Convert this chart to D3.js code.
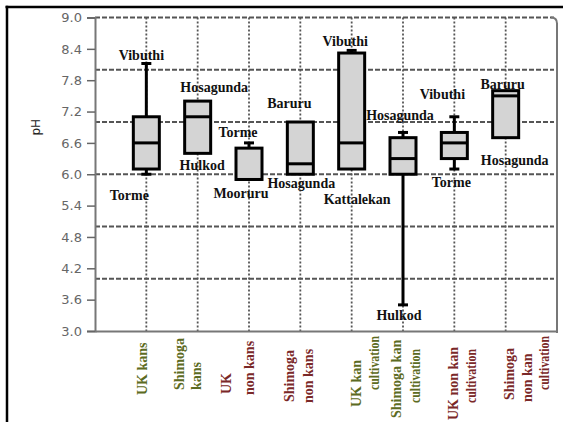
<!DOCTYPE html>
<html>
  <head>
    <meta charset="UTF-8" />
    <script src="https://d3js.org/d3.v7.min.js"></script>
    <style>
      body { margin: 0; background: #fff; }
    </style>
  </head>
  <body>
    <div id="chart"></div>
    <script>
      // data
      var categories = [
        ["UK kans"],
        ["Shimoga", "kans"],
        ["UK", "non kans"],
        ["Shimoga", "non kans"],
        ["UK kan", "cultivation"],
        ["Shimoga kan", "cultivation"],
        ["UK non kan", "cultivation"],
        ["Shimoga", "non kan", "cultivation"]
      ];
      var isKan = [true, true, false, false, true, true, false, false];
      var whiskerLow = [6.0, 6.4, 5.9, 6.0, 6.1, 3.5, 6.1, 6.7];
      var q1 = [6.1, 6.4, 5.9, 6.0, 6.1, 6.0, 6.3, 6.7];
      var median = [6.6, 7.1, 5.9, 6.2, 6.6, 6.3, 6.6, 7.5];
      var q3 = [7.1, 7.4, 6.5, 7.0, 8.32, 6.7, 6.8, 7.6];
      var whiskerHigh = [8.12, 7.4, 6.6, 7.0, 8.37, 6.8, 7.1, 7.6];
      var maxPlace = ["Vibuthi", "Hosagunda", "Torme", "Baruru", "Vibuthi", "Hosagunda", "Vibuthi", "Baruru"];
      var minPlace = ["Torme", "Hulkod", "Mooruru", "Hosagunda", "Kattalekan", "Hulkod", "Torme", "Hosagunda"];
      var yTicks = [3.0, 3.6, 4.2, 4.8, 5.4, 6.0, 6.6, 7.2, 7.8, 8.4, 9.0];
      var yGrid = [4, 5, 6, 7, 8, 9];

      // label placement (pixel nudges)
      var topOff = [[-5, -8], [16.5, -14], [-11, -11], [-11, -19], [-6.5, -9], [-3, -17], [-12, -23], [-3, -7]];
      var botOff = [[-17, 21], [4.5, 12], [-8, 14], [1, 9], [5.5, 30], [-4, 10], [-3, 13], [9, 22]];
      var catLines = [
        [[-4, 395]],
        [[-18.5, 390], [-1.5, 390]],
        [[-23, 394], [0, 395]],
        [[-11, 402], [8, 403]],
        [[4, 407], [22.5, 390]],
        [[-7, 418], [12, 403]],
        [[-1, 420], [17, 403]],
        [[3, 400], [21.5, 402], [38, 390]]
      ];

      var W = 563, H = 422;
      var pLeft = 95, pRight = 557, pTop = 17.5, pBottom = 331;

      var svg = d3.select("#chart").append("svg")
        .attr("width", W).attr("height", H);

      var x = d3.scaleLinear().domain([0, 9]).range([pLeft, pRight]);
      var y = d3.scaleLinear().domain([3, 9]).range([pBottom, pTop]);

      // outer frame (top and left only)
      svg.append("line").attr("x1", 5.5).attr("x2", W).attr("y1", 7).attr("y2", 7)
        .attr("stroke", "#000").attr("stroke-width", 2.5);
      svg.append("line").attr("x1", 7).attr("x2", 7).attr("y1", 5.8).attr("y2", H)
        .attr("stroke", "#000").attr("stroke-width", 2.5);

      // grid
      svg.append("g").selectAll("line").data(yGrid).join("line")
        .attr("x1", pLeft).attr("x2", pRight - 3)
        .attr("y1", d => y(d)).attr("y2", d => y(d))
        .attr("stroke", "#555").attr("stroke-width", 1.8)
        .attr("stroke-dasharray", "5,2");
      svg.append("g").selectAll("line").data(d3.range(1, 9)).join("line")
        .attr("x1", d => x(d)).attr("x2", d => x(d))
        .attr("y1", pTop).attr("y2", pBottom)
        .attr("stroke", "#555").attr("stroke-width", 1.8)
        .attr("stroke-dasharray", "2,2");

      // right border with rounded top corner
      svg.append("path")
        .attr("d", "M" + (pRight - 6) + "," + pTop + " Q" + pRight + "," + pTop + " " + pRight + "," + (pTop + 6) + " L" + pRight + "," + (pBottom + 2))
        .attr("fill", "none").attr("stroke", "#777").attr("stroke-width", 2);

      // axes
      var yAxis = d3.axisLeft(y).tickValues(yTicks).tickSize(8).tickPadding(5)
        .tickFormat(d3.format(".1f"));
      var yg = svg.append("g").attr("transform", "translate(" + pLeft + ",0)").call(yAxis);
      yg.select(".domain").attr("stroke", "#777").attr("stroke-width", 2);
      yg.selectAll(".tick line").attr("stroke", "#666").attr("stroke-width", 1.5);
      yg.selectAll(".tick text").attr("fill", "#666")
        .style("font-family", "DejaVu Sans, Verdana, sans-serif").style("font-size", "13px");

      var xAxis = d3.axisBottom(x).tickValues([]).tickSizeOuter(0);
      var xg = svg.append("g").attr("transform", "translate(0," + pBottom + ")").call(xAxis);
      xg.select(".domain").attr("stroke", "#777").attr("stroke-width", 2);

      svg.append("text")
        .attr("transform", "translate(36," + y(6.9) + ") rotate(-90)")
        .attr("text-anchor", "middle").attr("dy", "0.35em")
        .style("font-family", "DejaVu Sans, sans-serif").style("font-size", "12px")
        .attr("fill", "#222").text("pH");

      // boxes
      var bw = 26, cw = 10;
      var idx = d3.range(categories.length);
      var g = svg.append("g");
      g.selectAll("line.whisker").data(idx).join("line").attr("class", "whisker")
        .attr("x1", i => x(i + 1)).attr("x2", i => x(i + 1))
        .attr("y1", i => y(whiskerLow[i])).attr("y2", i => y(whiskerHigh[i]))
        .attr("stroke", "#000").attr("stroke-width", 3);
      g.selectAll("line.capHi").data(idx.filter(i => whiskerHigh[i] > q3[i])).join("line").attr("class", "capHi")
        .attr("x1", i => x(i + 1) - cw / 2).attr("x2", i => x(i + 1) + cw / 2)
        .attr("y1", i => y(whiskerHigh[i])).attr("y2", i => y(whiskerHigh[i]))
        .attr("stroke", "#000").attr("stroke-width", 3);
      g.selectAll("line.capLo").data(idx.filter(i => whiskerLow[i] < q1[i])).join("line").attr("class", "capLo")
        .attr("x1", i => x(i + 1) - cw / 2).attr("x2", i => x(i + 1) + cw / 2)
        .attr("y1", i => y(whiskerLow[i])).attr("y2", i => y(whiskerLow[i]))
        .attr("stroke", "#000").attr("stroke-width", 3);
      g.selectAll("rect").data(idx).join("rect")
        .attr("x", i => x(i + 1) - bw / 2).attr("width", bw)
        .attr("y", i => y(q3[i])).attr("height", i => y(q1[i]) - y(q3[i]))
        .attr("fill", "#d4d4d4").attr("stroke", "#000").attr("stroke-width", 3);
      g.selectAll("line.med").data(idx).join("line").attr("class", "med")
        .attr("x1", i => x(i + 1) - bw / 2).attr("x2", i => x(i + 1) + bw / 2)
        .attr("y1", i => y(median[i])).attr("y2", i => y(median[i]))
        .attr("stroke", "#000").attr("stroke-width", 3);

      // place labels
      var serif = "Liberation Serif, Times New Roman, serif";
      g.selectAll("text.max").data(idx).join("text").attr("class", "max")
        .attr("x", i => x(i + 1) + topOff[i][0]).attr("y", i => y(whiskerHigh[i]) + topOff[i][1])
        .attr("dy", "0.35em").attr("text-anchor", "middle")
        .style("font-family", serif).style("font-size", "14px").style("font-weight", "bold")
        .attr("fill", "#111").text(i => maxPlace[i]);
      g.selectAll("text.min").data(idx).join("text").attr("class", "min")
        .attr("x", i => x(i + 1) + botOff[i][0]).attr("y", i => y(whiskerLow[i]) + botOff[i][1])
        .attr("dy", "0.35em").attr("text-anchor", "middle")
        .style("font-family", serif).style("font-size", "14px").style("font-weight", "bold")
        .attr("fill", "#111").text(i => minPlace[i]);

      // category labels, rotated
      idx.forEach(function (i) {
        categories[i].forEach(function (line, k) {
          var p = catLines[i][k];
          var t = svg.append("text")
            .attr("transform", "translate(" + (x(i + 1) + p[0]) + "," + p[1] + ") rotate(-90)")
            .attr("dy", "0.35em").attr("text-anchor", "start")
            .style("font-family", serif).style("font-size", "14px").style("font-weight", "bold")
            .attr("fill", isKan[i] ? "#5c6b22" : "#7a2828")
            .text(line);
          // the source squeezes this word a bit
          if (line === "cultivation") t.attr("textLength", 54).attr("lengthAdjust", "spacingAndGlyphs");
        });
      });
    </script>
  </body>
</html>
